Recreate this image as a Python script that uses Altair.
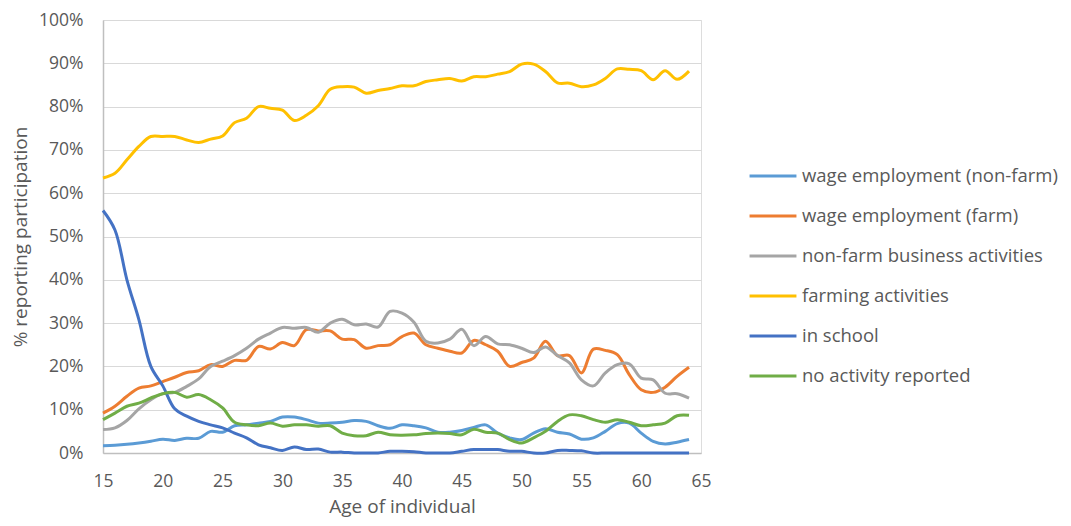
import altair as alt
import pandas as pd

ages = list(range(15, 65))

series_names = [
    "wage employment (non-farm)",
    "wage employment (farm)",
    "non-farm business activities",
    "farming activities",
    "in school",
    "no activity reported",
]
series_colors = ["#5B9BD5", "#ED7D31", "#A5A5A5", "#FFC000", "#4472C4", "#70AD47"]

wage_nonfarm = [1.7, 1.8, 2.0, 2.3, 2.7, 3.2, 2.9, 3.4, 3.4, 5.0,
                4.8, 6.3, 6.5, 6.9, 7.3, 8.3, 8.3, 7.7, 6.9, 6.9,
                7.1, 7.5, 7.3, 6.3, 5.7, 6.5, 6.3, 5.8, 4.8, 4.8,
                5.2, 5.9, 6.5, 4.6, 3.5, 3.1, 4.6, 5.6, 4.8, 4.4,
                3.2, 3.5, 5.0, 6.8, 6.9, 4.6, 2.7, 2.1, 2.5, 3.1]
wage_farm = [9.2, 10.8, 13.1, 15.0, 15.5, 16.5, 17.5, 18.6, 19.0, 20.4,
             20.0, 21.4, 21.4, 24.6, 24.0, 25.5, 24.8, 28.5, 28.2, 28.2,
             26.3, 26.2, 24.2, 24.8, 25.0, 26.9, 27.7, 25.0, 24.2, 23.5,
             23.1, 26.0, 25.0, 23.5, 20.0, 20.9, 21.9, 25.8, 22.5, 22.5,
             18.5, 24.0, 23.7, 22.7, 18.1, 14.6, 14.0, 15.2, 17.7, 19.8]
nonfarm_business = [5.4, 5.8, 7.5, 10.2, 12.3, 13.7, 14.0, 15.4, 17.1, 20.0,
                    21.2, 22.5, 24.2, 26.3, 27.7, 29.0, 28.8, 29.0, 27.9, 30.0,
                    30.9, 29.6, 29.8, 29.1, 32.7, 32.3, 30.2, 25.8, 25.4, 26.3,
                    28.6, 24.8, 26.9, 25.2, 25.0, 24.2, 23.2, 24.5, 22.5, 20.8,
                    16.9, 15.5, 18.5, 20.4, 20.6, 17.3, 16.9, 13.8, 13.7, 12.7]
farming = [63.5, 64.6, 67.7, 70.8, 73.1, 73.1, 73.1, 72.3, 71.7, 72.5,
           73.2, 76.3, 77.3, 80.0, 79.6, 79.2, 76.8, 78.0, 80.2, 84.0,
           84.6, 84.5, 83.1, 83.7, 84.2, 84.8, 84.8, 85.8, 86.2, 86.5,
           85.9, 86.9, 86.9, 87.5, 88.1, 89.8, 89.8, 88.1, 85.5, 85.4,
           84.6, 85.0, 86.5, 88.7, 88.6, 88.3, 86.2, 88.3, 86.3, 88.2]
in_school = [56.0, 51.5, 40.0, 30.8, 20.0, 15.5, 10.2, 8.5, 7.3, 6.5,
             5.8, 4.6, 3.5, 1.9, 1.2, 0.6, 1.4, 0.8, 0.9, 0.2,
             0.2, 0.0, 0.0, 0.0, 0.4, 0.4, 0.3, 0.0, 0.0, 0.0,
             0.4, 0.8, 0.8, 0.8, 0.4, 0.4, 0.0, 0.0, 0.6, 0.6,
             0.5, 0.0, 0.0, 0.0, 0.0, 0.0, 0.0, 0.0, 0.0, 0.0]
no_activity = [7.7, 9.2, 10.8, 11.5, 12.7, 13.7, 14.0, 12.9, 13.5, 12.3,
               10.4, 7.1, 6.5, 6.3, 6.9, 6.2, 6.5, 6.5, 6.2, 6.3,
               4.6, 4.0, 4.0, 4.8, 4.2, 4.1, 4.2, 4.5, 4.6, 4.5,
               4.2, 5.5, 4.8, 4.6, 3.1, 2.3, 3.5, 5.0, 7.3, 8.8,
               8.6, 7.7, 7.1, 7.7, 7.1, 6.3, 6.5, 6.9, 8.6, 8.7]

x_ticks = [15, 20, 25, 30, 35, 40, 45, 50, 55, 60, 65]
y_ticks = [0, 0.1, 0.2, 0.3, 0.4, 0.5, 0.6, 0.7, 0.8, 0.9, 1.0]

all_series = [wage_nonfarm, wage_farm, nonfarm_business, farming, in_school, no_activity]
rows = []
for idx, (name, vals) in enumerate(zip(series_names, all_series)):
    for a, v in zip(ages, vals):
        rows.append({"age": a, "value": v / 100.0, "series": name, "order": idx})
df = pd.DataFrame(rows)

FONT = "Open Sans"
TEXT = "#595959"

chart = alt.Chart(df).mark_line(
    interpolate="catmull-rom", strokeWidth=3
).encode(
    x=alt.X("age:Q",
            scale=alt.Scale(domain=[15, 65], nice=False, zero=False),
            axis=alt.Axis(values=x_ticks, title="Age of individual", grid=False,
                          ticks=False, labelPadding=19, titlePadding=8,
                          labelFlush=False, labelOverlap=False,
                          labelFontSize=17.5, titleFontSize=19,
                          labelColor=TEXT, titleColor=TEXT, titleFontWeight="normal",
                          domainColor="#BFBFBF", domainWidth=1.5,
                          labelFont=FONT, titleFont=FONT)),
    y=alt.Y("value:Q",
            scale=alt.Scale(domain=[0, 1], nice=False),
            axis=alt.Axis(values=y_ticks, format=".0%", title="% reporting participation",
                          grid=True, gridColor="#D9D9D9", gridWidth=1.2,
                          ticks=False, labelPadding=20, titleX=-73,
                          labelFlush=False, labelOverlap=False,
                          labelFontSize=17.5, titleFontSize=19,
                          labelColor=TEXT, titleColor=TEXT, titleFontWeight="normal",
                          domainColor="#BFBFBF", domainWidth=1.5,
                          labelFont=FONT, titleFont=FONT)),
    color=alt.Color("series:N",
                    scale=alt.Scale(domain=series_names, range=series_colors),
                    sort=series_names,
                    legend=alt.Legend(title=None, orient="none", legendX=645, legendY=131,
                                      symbolType="stroke", symbolSize=2200,
                                      symbolStrokeWidth=3, labelFontSize=18.5,
                                      labelColor=TEXT, labelFont=FONT, labelOffset=4,
                                      rowPadding=5, labelLimit=400)),
    order=alt.Order("order:Q"),
).properties(
    width=598, height=433,
    autosize=alt.AutoSizeParams(type="none"),
    padding={"left": 95, "top": 12, "right": 360, "bottom": 65},
).configure_view(stroke=None).configure(background="white")

chart.save("out.html", embed_options={"renderer": "svg", "actions": False})
